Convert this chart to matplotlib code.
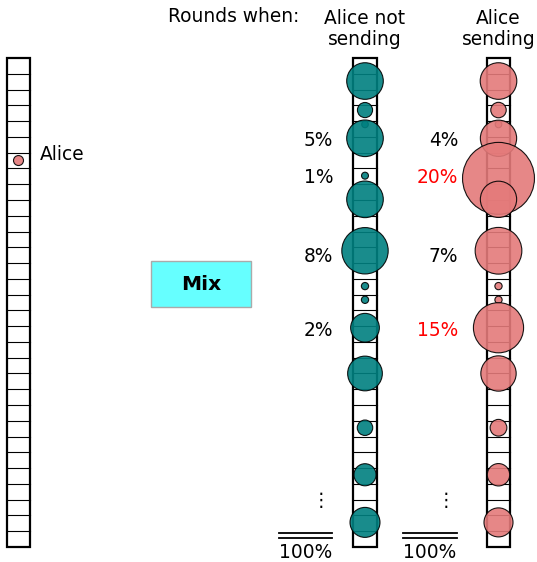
import matplotlib
matplotlib.use("Agg")
import matplotlib.pyplot as plt
from matplotlib.patches import Circle, Rectangle

# ---- data (positions in slots counted from the top of a round) ----
N_SLOTS = 31
ALICE_SLOT = 6.5

# round without Alice: bubble slot and bubble radius (slots)
idle_pos = [1.46, 3.30, 4.21, 5.09, 7.46, 8.96, 12.22, 14.46, 15.33, 17.10, 20.00, 23.44, 26.42, 29.44]
idle_rad = [1.16, 0.48, 0.21, 1.16, 0.22, 1.16, 1.47, 0.23, 0.23, 0.91, 1.10, 0.49, 0.70, 0.95]

# round with Alice sending
send_pos = [1.46, 3.30, 4.21, 5.09, 7.63, 8.96, 12.22, 14.46, 15.33, 17.10, 20.00, 23.44, 26.42, 29.44]
send_rad = [1.16, 0.49, 0.21, 1.15, 2.28, 1.15, 1.48, 0.23, 0.23, 1.59, 1.12, 0.53, 0.71, 0.92]

label_pos = [5.20, 7.60, 12.60, 17.30]
idle_labels = ["5%", "1%", "8%", "2%"]
send_labels = ["4%", "20%", "7%", "15%"]
send_highlight = [False, True, False, True]

TEAL, PINK = "#008080", "#e47a7a"
FS = 13.4

# ---- layout (pixels) ----
W, H = 537, 562
Y0, SLOT = 58.0, 489.0 / N_SLOTS
COL_W = 23.5


def sy(s):
    return Y0 + s * SLOT


def column(ax, xc):
    x0 = xc - COL_W / 2
    for i in range(1, N_SLOTS):
        ax.plot([x0, x0 + COL_W], [sy(i), sy(i)], color="black", lw=0.8, zorder=1)
    ax.add_patch(Rectangle((x0, Y0), COL_W, N_SLOTS * SLOT, fill=False,
                           ec="black", lw=1.6, zorder=2))


def bubbles(ax, xc, pos, rad, color):
    for p, r in zip(pos, rad):
        ax.add_patch(Circle((xc, sy(p)), r * SLOT, fc=color, ec="black",
                            lw=0.8, alpha=0.9, zorder=3))


fig = plt.figure(figsize=(W / 100, H / 100), dpi=100)
ax = fig.add_axes([0, 0, 1, 1])
ax.set_xlim(0, W)
ax.set_ylim(H, 0)
ax.axis("off")

# Alice's own round
XL, XM, XR = 18.5, 365, 498.5
column(ax, XL)
ax.add_patch(Circle((XL, sy(ALICE_SLOT)), 5, fc=PINK, ec="black", lw=0.8, alpha=0.9, zorder=3))
ax.text(40, sy(ALICE_SLOT) - 6.5, "Alice", fontsize=FS, va="center", ha="left")

# mix box
ax.add_patch(Rectangle((151, 261), 100, 46, fc="#66ffff", ec="#aaaaaa", lw=1, zorder=2))
ax.text(201, 284, "Mix", fontsize=14.6, fontweight="bold", ha="center", va="center", zorder=3)

# headers
ax.text(168, 17, "Rounds when:", fontsize=FS, ha="left", va="center")
ax.text(XM, 29, "Alice not\nsending", fontsize=FS, ha="center", va="center", linespacing=1.15)
ax.text(XR, 29, "Alice\nsending", fontsize=FS, ha="center", va="center", linespacing=1.15)

# output rounds
column(ax, XM)
bubbles(ax, XM, idle_pos, idle_rad, TEAL)
column(ax, XR)
bubbles(ax, XR, send_pos, send_rad, PINK)

for p, a, b, hl in zip(label_pos, idle_labels, send_labels, send_highlight):
    ax.text(333, sy(p), a, fontsize=FS, ha="right", va="center")
    ax.text(458, sy(p), b, fontsize=FS, ha="right", va="center",
            color="red" if hl else "black")

# totals
for xa, xb in [(279, 332), (403, 457)]:
    ax.text(xb - 11, 500, "\u22ee", fontsize=FS, ha="center", va="center")
    for yy in (533.3, 538.3):
        ax.plot([xa, xb], [yy, yy], color="black", lw=1.3)
    ax.text((xa + xb) / 2, 553, "100%", fontsize=FS, ha="center", va="center")

fig.savefig("out.png", dpi=100)
